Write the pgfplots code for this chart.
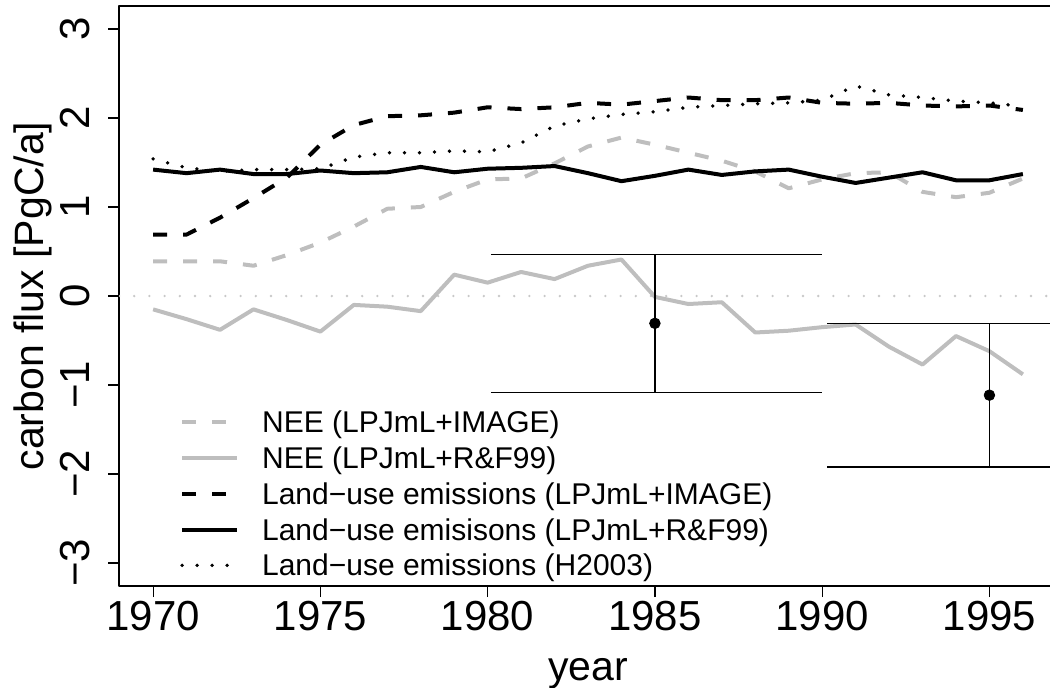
\documentclass[border=0pt]{standalone}
\usepackage{fontspec}
\setmainfont{Liberation Sans}
\usepackage{graphicx}
\usepackage{pgfplots}
\pgfplotsset{compat=1.18}
\usepackage{pgfplotstable}
\definecolor{rgray}{HTML}{BEBEBE}
\definecolor{zgray}{HTML}{C8C8C8}

\pgfplotstableread{
year neeimg neerf luimg lurf h2003
1970 0.39 -0.15 0.69 1.42 1.54
1971 0.39 -0.26 0.69 1.38 1.44
1972 0.39 -0.38 0.88 1.42 1.40
1973 0.34 -0.15 1.10 1.37 1.42
1974 0.46 -0.27 1.33 1.37 1.42
1975 0.60 -0.40 1.70 1.41 1.43
1976 0.78 -0.10 1.92 1.38 1.56
1977 0.98 -0.12 2.02 1.39 1.61
1978 1.00 -0.17 2.03 1.45 1.61
1979 1.17 0.24 2.06 1.39 1.63
1980 1.31 0.15 2.12 1.43 1.62
1981 1.32 0.27 2.10 1.44 1.72
1982 1.49 0.19 2.12 1.46 1.91
1983 1.68 0.34 2.17 1.38 1.99
1984 1.78 0.41 2.15 1.29 2.04
1985 1.70 -0.01 2.19 1.35 2.07
1986 1.61 -0.09 2.23 1.42 2.12
1987 1.52 -0.07 2.20 1.36 2.14
1988 1.40 -0.41 2.20 1.40 2.16
1989 1.21 -0.39 2.23 1.42 2.17
1990 1.31 -0.35 2.17 1.34 2.20
1991 1.38 -0.32 2.16 1.27 2.36
1992 1.39 -0.57 2.17 1.33 2.26
1993 1.17 -0.77 2.14 1.39 2.23
1994 1.11 -0.45 2.13 1.30 2.19
1995 1.16 -0.62 2.14 1.30 2.17
1996 1.32 -0.88 2.09 1.37 2.13
}\data

\begin{document}
\begin{tikzpicture}
\useasboundingbox (0,0) rectangle (525pt,343.5pt);
\begin{axis}[
  at={(59.5pt,50.5pt)}, anchor=south west,
  scale only axis, width=469pt, height=290pt,
  xmin=1968.98, xmax=1997.02, ymin=-3.258, ymax=3.258,
  axis line style={line width=1pt},
  xtick pos=bottom, ytick pos=left,
  tick align=outside, major tick length=5.5pt,
  tick style={line width=0.6pt, black},
  xtick={1970,1975,1980,1985,1990,1995},
  xticklabels={1970,1975,1980,1985,1990,1995},
  ytick={-3,-2,-1,0,1,2,3},
  yticklabels={\rotatebox{90}{−3},\rotatebox{90}{−2},\rotatebox{90}{−1},\rotatebox{90}{0},\rotatebox{90}{1},\rotatebox{90}{2},\rotatebox{90}{3}},
  every tick label/.append style={font=\fontsize{21}{24}\selectfont},
  every x tick label/.append style={anchor=north, inner sep=0pt, yshift=-2pt},
  every y tick label/.append style={anchor=east, inner sep=0pt, xshift=-9pt},
  every axis x label/.style={at={(axis description cs:0.5,0)}, anchor=base, yshift=-47pt, font=\fontsize{20.5}{24}\selectfont},
  every axis y label/.style={at={(axis description cs:0,0.5)}, xshift=-38pt, rotate=90, anchor=base, font=\fontsize{20.5}{24}\selectfont},
  xlabel={year}, ylabel={carbon flux [PgC/a]},
  legend image code/.code={\draw[#1] (0pt,0pt) -- (27.5pt,0pt);},
  legend cell align=left,
  legend style={at={(axis cs:1970.807,-1.2416)}, anchor=north west,
    draw=none, fill=none, inner xsep=0pt, inner ysep=0pt, outer sep=0pt,
    row sep=2.3pt, font=\fontsize{15}{18}\selectfont,
    nodes={inner sep=0pt, text height=13.05pt, text depth=2.55pt},
    /tikz/every odd column/.append style={column sep=11.5pt}},
  line join=round,
]
\addplot[zgray, line width=1.3pt, dash pattern=on 0pt off 7.6pt, line cap=round, forget plot] coordinates {(1968.98,0) (1997.02,0)};

\addplot[rgray, line width=2pt, dash pattern=on 7pt off 8pt] table[x=year, y=neeimg] {\data};
\addlegendentry{NEE (LPJmL+IMAGE)}
\addplot[rgray, line width=2pt] table[x=year, y=neerf] {\data};
\addlegendentry{NEE (LPJmL+R\&F99)}
\addplot[black, line width=2pt, dash pattern=on 7pt off 8pt] table[x=year, y=luimg] {\data};
\addlegendentry{Land−use emissions (LPJmL+IMAGE)}
\addplot[black, line width=2pt] table[x=year, y=lurf] {\data};
\addlegendentry{Land−use emisisons (LPJmL+R\&F99)}
\addplot[black, line width=1.9pt, line cap=round, dash pattern=on 0pt off 7.5pt] table[x=year, y=h2003] {\data};
\addlegendentry{Land−use emissions (H2003)}

\addplot[black, line width=0.8pt, forget plot] coordinates {(1985,0.468) (1985,-1.082)};
\addplot[black, line width=0.8pt, forget plot] coordinates {(1980.1,0.468) (1990,0.468)};
\addplot[black, line width=0.8pt, forget plot] coordinates {(1980.1,-1.082) (1990,-1.082)};
\addplot[black, line width=0.8pt, forget plot] coordinates {(1995,-0.311) (1995,-1.918)};
\addplot[black, line width=0.8pt, forget plot] coordinates {(1990.15,-0.311) (2000,-0.311)};
\addplot[black, line width=0.8pt, forget plot] coordinates {(1990.15,-1.918) (2000,-1.918)};
\addplot[only marks, mark=*, mark size=2.65pt, black, forget plot] coordinates {(1985,-0.307) (1995,-1.114)};
\end{axis}
\end{tikzpicture}
\end{document}
